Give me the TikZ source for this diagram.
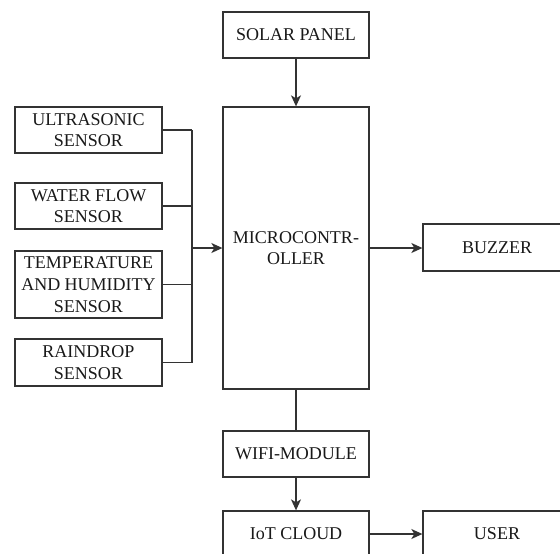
\documentclass[tikz,border=0pt]{standalone}
\usepackage{fontspec}
\setmainfont{Liberation Serif}
\usetikzlibrary{arrows.meta}
\begin{document}
\begin{tikzpicture}[x=1pt,y=-1pt,
  box/.style={draw=black!80, line width=1.3pt, fill=white, inner sep=0pt, align=center,
    font=\fontsize{18}{21.7}\selectfont, text=black!90, minimum width=146pt, minimum height=46pt},
  conn/.style={draw=black!80, line width=1.3pt},
  arr/.style={conn, -{Stealth[length=11pt,width=10pt,inset=3pt]}}]
\useasboundingbox (0,0) rectangle (560,554);
\clip (0,0) rectangle (560,554);
\fill[white] (0,0) rectangle (560,554);
% central column
\node[box] (solar) at (296,35) {SOLAR PANEL};
\node[box, minimum height=282pt] (micro) at (296,248) {MICROCONTR-\\OLLER};
\node[box] (wifi) at (296,454) {WIFI-MODULE};
\node[box] (iot) at (296,534) {IoT CLOUD};
% right column
\node[box, minimum width=148pt, minimum height=47pt] (buzzer) at (497,247.5) {BUZZER};
\node[box, minimum width=148pt] (user) at (497,534) {USER};
% sensors
\node[box, minimum width=147pt] (ultra) at (88.5,130) {ULTRASONIC\\SENSOR};
\node[box, minimum width=147pt] (water) at (88.5,206) {WATER FLOW\\SENSOR};
\node[box, minimum width=147pt, minimum height=67pt] (temp) at (88.5,284.5) {TEMPERATURE\\AND HUMIDITY\\SENSOR};
\node[box, minimum width=147pt, minimum height=47pt] (rain) at (88.5,362.5) {RAINDROP\\SENSOR};
\coordinate (bus) at (192,0);
% connectors
\draw[arr] (solar) -- (micro);
\draw[conn] (ultra.east) -- (bus |- ultra.east);
\draw[conn] (water.east) -- (bus |- water.east);
\draw[conn] (temp.east) -- (bus |- temp.east);
\draw[conn] (rain.east) -- (bus |- rain.east);
\draw[conn] (bus |- ultra.east) -- (bus |- rain.east);
\draw[arr] (bus |- micro.west) -- (micro.west);
\draw[arr] (micro.east) -- (micro.east -| buzzer.west);
\draw[conn] (micro) -- (wifi);
\draw[arr] (wifi) -- (iot);
\draw[arr] (iot) -- (user);
\end{tikzpicture}
\end{document}
